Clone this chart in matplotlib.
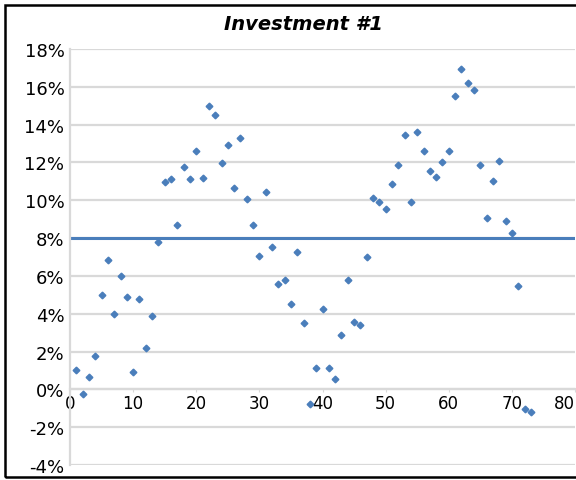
import matplotlib
matplotlib.use('Agg')
import matplotlib.pyplot as plt
from matplotlib.patches import Rectangle

# returns per period (%), periods 1..73
periods = list(range(1, 74))
returns = [1.0, -0.25, 0.66, 1.79, 4.98, 6.82, 4.0, 5.99, 4.88, 0.91,
           4.79, 2.18, 3.87, 7.8, 10.96, 11.14, 8.7, 11.76, 11.11, 12.59,
           11.16, 14.98, 14.52, 11.95, 12.94, 10.65, 13.29, 10.08, 8.67, 7.05,
           10.42, 7.51, 5.57, 5.78, 4.54, 7.26, 3.49, -0.75, 1.12, 4.23,
           1.12, 0.54, 2.85, 5.8, 3.57, 3.43, 6.98, 10.12, 9.9, 9.55,
           10.86, 11.86, 13.43, 9.92, 13.59, 12.59, 11.54, 11.24, 12.02, 12.6,
           15.51, 16.94, 16.19, 15.81, 11.86, 9.06, 11.0, 12.06, 8.92, 8.28,
           5.48, -1.05, -1.22]
mean_return = 8.0

x_ticks = [0, 10, 20, 30, 40, 50, 60, 70, 80]
y_ticks = [-4, -2, 0, 2, 4, 6, 8, 10, 12, 14, 16, 18]
y_labels = ['-4%', '-2%', '0%', '2%', '4%', '6%', '8%', '10%', '12%',
            '14%', '16%', '18%']

blue = '#4a7ebb'

fig = plt.figure(figsize=(5.76, 4.81), dpi=100)
ax = fig.add_axes([70 / 576, 1 - 466 / 481, 505 / 576, 416 / 481])

ax.set_xlim(0, 80)
ax.set_ylim(-4, 18)

ax.set_yticks(y_ticks)
ax.set_yticklabels(y_labels)
ax.set_xticks(x_ticks)
ax.grid(axis='y', color='#d9d9d9', linewidth=1.6)
ax.set_axisbelow(True)

ax.axhline(mean_return, color=blue, linewidth=2.2, zorder=2)
ax.plot(periods, returns, linestyle='none', marker='D', markersize=3.4,
        color=blue, zorder=3)

for side in ['top', 'right']:
    ax.spines[side].set_visible(False)
ax.spines['left'].set_color('#d9d9d9')
ax.spines['left'].set_linewidth(1.6)
ax.spines['bottom'].set_position(('data', 0))
ax.spines['bottom'].set_color('#d9d9d9')
ax.spines['bottom'].set_linewidth(1.6)

ax.tick_params(axis='y', length=0, pad=4, labelsize=13, colors='black')
ax.tick_params(axis='x', length=2, color='#d9d9d9', pad=1,
               labelsize=12, colors='black')
for lbl in ax.get_xticklabels():
    lbl.set_zorder(5)
# keep the last label inside the picture, as in the original
ax.get_xticklabels()[-1].set_horizontalalignment('right')

fig.text(304 / 576, 1 - 25 / 481, 'Investment #1', ha='center', va='center',
         fontsize=14, fontweight='bold', fontstyle='italic')

fig.patches.append(Rectangle((5 / 576, 3 / 481), 1.0, 472 / 481,
                             transform=fig.transFigure, fill=False,
                             edgecolor='black', linewidth=1.8))

fig.savefig('out.png', dpi=100)
